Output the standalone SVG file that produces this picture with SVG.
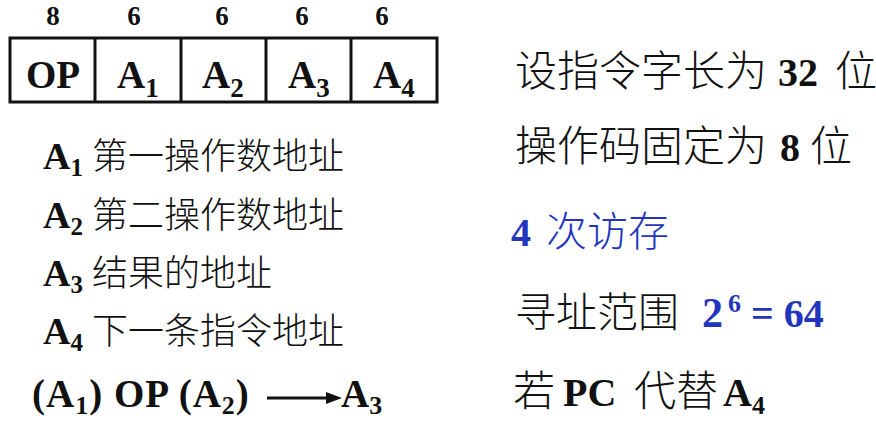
<svg xmlns="http://www.w3.org/2000/svg" width="876" height="425" viewBox="0 0 876 425">
<style>
.lat{font-family:"Liberation Serif","Times New Roman",serif;font-weight:bold;fill:#111}
.cjk{font-family:"Noto Sans CJK SC","Noto Sans CJK JP",sans-serif;font-weight:300;fill:#111}
.blue{fill:#2236bd}
.cell{fill:#fff;stroke:#111;stroke-width:3}
</style>
<rect width="876" height="425" fill="#fff"/>
<g id="bit-widths" class="lat" font-size="27">
<text x="53" y="25" text-anchor="middle">8</text>
<text x="134" y="25" text-anchor="middle">6</text>
<text x="222" y="25" text-anchor="middle">6</text>
<text x="302" y="25" text-anchor="middle">6</text>
<text x="382" y="25" text-anchor="middle">6</text>
</g>
<g id="instruction-format">
<rect class="cell" x="10" y="38" width="427" height="64"/>
<line x1="95" y1="38" x2="95" y2="102" stroke="#111" stroke-width="3"/>
<line x1="181" y1="38" x2="181" y2="102" stroke="#111" stroke-width="3"/>
<line x1="266" y1="38" x2="266" y2="102" stroke="#111" stroke-width="3"/>
<line x1="351" y1="38" x2="351" y2="102" stroke="#111" stroke-width="3"/>
<g class="lat" font-size="39">
<text x="53" y="88" text-anchor="middle">OP</text>
<text x="117" y="88">A<tspan font-size="27" dy="9">1</tspan></text>
<text x="202" y="88">A<tspan font-size="27" dy="9">2</tspan></text>
<text x="288" y="88">A<tspan font-size="27" dy="9">3</tspan></text>
<text x="373" y="88">A<tspan font-size="27" dy="9">4</tspan></text>
</g>
</g>
<g id="field-meanings">
<g class="lat" font-size="38">
<text x="43" y="169">A<tspan font-size="25" dy="7">1</tspan></text>
<text x="43" y="228">A<tspan font-size="25" dy="7">2</tspan></text>
<text x="43" y="286">A<tspan font-size="25" dy="7">3</tspan></text>
<text x="43" y="344">A<tspan font-size="25" dy="7">4</tspan></text>
</g>
<g class="cjk" font-size="36">
<text x="92" y="169">第一操作数地址</text>
<text x="92" y="228">第二操作数地址</text>
<text x="92" y="286">结果的地址</text>
<text x="92" y="344">下一条指令地址</text>
</g>
</g>
<g id="operation" class="lat" font-size="39">
<text x="32" y="407" letter-spacing="1">(A<tspan font-size="26" dy="7">1</tspan><tspan dy="-7">) OP (A</tspan><tspan font-size="26" dy="7">2</tspan><tspan dy="-7">)</tspan></text>
<text x="341" y="407">A<tspan font-size="26" dy="7">3</tspan></text>
</g>
<g id="connectors">
<line x1="267" y1="398" x2="330" y2="398" stroke="#111" stroke-width="3"/>
<polygon points="342,398 326,392 326,404" fill="#111"/>
</g>
<g id="notes">
<text y="86"><tspan class="cjk" font-size="42" x="515">设指令字长为</tspan><tspan class="lat" font-size="40" x="778">32</tspan><tspan class="cjk" font-size="42" x="835">位</tspan></text>
<text y="161"><tspan class="cjk" font-size="42" x="515">操作码固定为</tspan><tspan class="lat" font-size="40" x="780">8</tspan><tspan class="cjk" font-size="42" x="810">位</tspan></text>
<text y="246"><tspan class="lat blue" font-size="40" x="511">4</tspan><tspan class="cjk blue" font-size="41" x="546">次访存</tspan></text>
<text y="327"><tspan class="cjk" font-size="41" x="515">寻址范围</tspan><tspan class="lat blue" font-size="42" x="702">2</tspan><tspan class="lat blue" font-size="26" x="728" dy="-15">6</tspan><tspan class="lat blue" font-size="40" x="751" dy="15">= 64</tspan></text>
<text y="406"><tspan class="cjk" font-size="42" x="513">若</tspan><tspan class="lat" font-size="40" x="563">PC</tspan><tspan class="cjk" font-size="42" x="634">代替</tspan><tspan class="lat" font-size="40" x="723">A</tspan><tspan class="lat" font-size="26" dy="8">4</tspan></text>
</g>
</svg>
